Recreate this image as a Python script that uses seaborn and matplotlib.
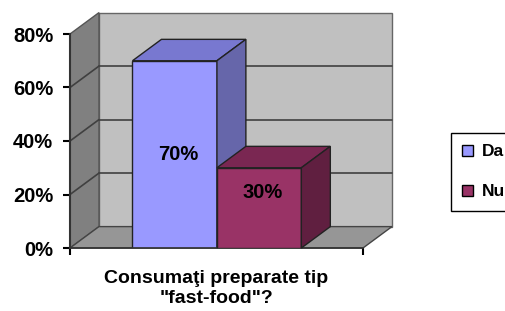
import matplotlib
matplotlib.use("Agg")
import matplotlib.pyplot as plt
import seaborn as sns
from matplotlib.patches import Polygon, Patch

# chart data
categories = ["Da", "Nu"]
percentages = [70, 30]
y_ticks = [0, 20, 40, 60, 80]
y_tick_labels = ["0%", "20%", "40%", "60%", "80%"]
x_title = "Consumaţi preparate tip\n\"fast-food\"?"

# Excel-like 3D colours (front, top, side)
front_colors = ["#9999FF", "#993366"]
top_colors = ["#7878D0", "#7A2752"]
side_colors = ["#6666AA", "#601F40"]

sns.set_theme(style="white")
plt.rcParams["font.family"] = ["Liberation Sans", "DejaVu Sans"]
plt.rcParams["text.color"] = "black"
plt.rcParams["axes.labelcolor"] = "black"
plt.rcParams["xtick.color"] = "black"
plt.rcParams["ytick.color"] = "black"

fig = plt.figure(figsize=(5.06, 3.11), dpi=100)
ax = fig.add_axes([70 / 506, 63 / 311, 293 / 506, 214 / 311])
ax.patch.set_alpha(0)

# depth of the fake 3D projection (data units)
dx, dy = 0.343, 8.0
x_lo, x_hi = -1.24, 2.23
y_top = y_ticks[-1]

# walls and floor
back = Polygon([(x_lo + dx, dy), (x_hi + dx, dy), (x_hi + dx, y_top + dy), (x_lo + dx, y_top + dy)],
               closed=True, facecolor="#C0C0C0", edgecolor="#666666", lw=1, zorder=0.2, clip_on=False)
side = Polygon([(x_lo, 0), (x_lo + dx, dy), (x_lo + dx, y_top + dy), (x_lo, y_top)],
               closed=True, facecolor="#808080", edgecolor="#555555", lw=1, zorder=0.3, clip_on=False)
floor = Polygon([(x_lo, 0), (x_hi, 0), (x_hi + dx, dy), (x_lo + dx, dy)],
                closed=True, facecolor="#969696", edgecolor="#444444", lw=1, zorder=0.3, clip_on=False)
for p in (back, side, floor):
    ax.add_patch(p)

# gridlines on back wall and side wall
for v in y_ticks[1:-1]:
    ax.plot([x_lo + dx, x_hi + dx], [v + dy, v + dy], color="#404040", lw=1.2, zorder=0.4, clip_on=False)
    ax.plot([x_lo, x_lo + dx], [v, v + dy], color="#404040", lw=1.2, zorder=0.4, clip_on=False)

# front faces of the bars
sns.barplot(x=categories, y=percentages, hue=categories, palette=front_colors,
            width=1.0, legend=False, ax=ax, edgecolor="#222222", linewidth=1, saturation=1)

bars = [p for c in ax.containers for p in c]
for i, bar in enumerate(bars):
    z = 2 + i
    bar.set_zorder(z)
    x0 = bar.get_x()
    x1 = x0 + bar.get_width()
    h = bar.get_height()
    top = Polygon([(x0, h), (x1, h), (x1 + dx, h + dy), (x0 + dx, h + dy)], closed=True,
                  facecolor=top_colors[i], edgecolor="#222222", lw=1, zorder=z, clip_on=False)
    rside = Polygon([(x1, 0), (x1 + dx, dy), (x1 + dx, h + dy), (x1, h)], closed=True,
                    facecolor=side_colors[i], edgecolor="#222222", lw=1, zorder=z, clip_on=False)
    ax.add_patch(top)
    ax.add_patch(rside)
    ax.text(x0 + bar.get_width() / 2 + 0.04, 0.355 * h + 10.2, f"{h:.0f}%",
            ha="center", va="center", fontsize=14.5, fontweight="bold", color="black", zorder=z + 0.5)

ax.set_xlim(x_lo, x_hi)
ax.set_ylim(0, y_top)
ax.set_yticks(y_ticks)
ax.set_yticklabels(y_tick_labels, fontsize=14.5, fontweight="bold")
ax.set_xticks([x_lo, x_hi])
ax.set_xticklabels(["", ""])
ax.tick_params(axis="both", direction="out", length=5, width=1.5, color="black", left=True, bottom=True)
ax.tick_params(axis="y", pad=7)
ax.tick_params(axis="x", pad=1)
ax.set_xlabel(x_title, fontsize=14, fontweight="bold", labelpad=10, linespacing=1.2)
ax.set_ylabel("")

for name in ("top", "right"):
    ax.spines[name].set_visible(False)
ax.spines["left"].set_color("#333333")
ax.spines["left"].set_linewidth(1.5)
ax.spines["bottom"].set_color("#333333")
ax.spines["bottom"].set_linewidth(1.2)

handles = [Patch(facecolor=c, edgecolor="black", lw=1) for c in front_colors]
fig.legend(handles, categories, loc="upper left", bbox_to_anchor=(451 / 506, 1 - 133 / 311),
           frameon=True, fancybox=False, edgecolor="black", framealpha=1,
           prop={"weight": "bold", "size": 12.5}, handlelength=0.6, handleheight=0.6,
           handletextpad=0.5, labelspacing=1.45, borderpad=0.65, borderaxespad=0)

fig.savefig("out.png", dpi=100, facecolor="white")
